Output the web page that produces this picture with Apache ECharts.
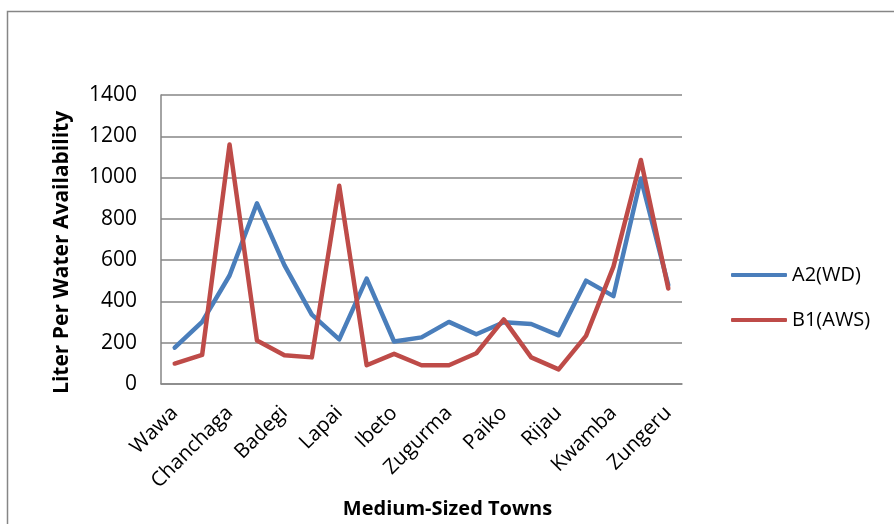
<!DOCTYPE html>
<html>
<head>
<meta charset="utf-8">
<style>
  html, body { margin: 0; padding: 0; background: #fff; }
  #chart { width: 894px; height: 524px; }
</style>
<script src="https://cdn.jsdelivr.net/npm/echarts@6/dist/echarts.min.js"></script>
</head>
<body>
<div id="chart"></div>
<script>
// Towns along the category axis; only every other name is printed on the axis
const towns = [
  'Wawa', '', 'Chanchaga', '', 'Badegi', '', 'Lapai', '', 'Ibeto', '',
  'Zugurma', '', 'Paiko', '', 'Rijau', '', 'Kwamba', '', 'Zungeru'
];

// Liter per water availability
const a2WD = [175, 300, 525, 875, 575, 335, 215, 510, 205, 225,
              300, 240, 298, 290, 235, 500, 425, 995, 478];
const b1AWS = [98, 140, 1160, 210, 138, 128, 960, 90, 145, 90,
               90, 148, 312, 128, 70, 232, 568, 1085, 462];

const yTicks = { min: 0, max: 1400, interval: 200 };

const FONT = '"Open Sans", Lato, sans-serif';
const GRAY = '#868686';

const chart = echarts.init(document.getElementById('chart'));

chart.setOption({
  animation: false,
  backgroundColor: '#ffffff',
  textStyle: { fontFamily: FONT, color: '#000' },
  graphic: [{
    type: 'rect',
    left: 5, top: 9,
    shape: { width: 940, height: 560 },
    style: { fill: 'none', stroke: GRAY, lineWidth: 1.5 },
    silent: true
  }],
  grid: { left: 161, top: 95, width: 521, height: 291 },
  legend: {
    orient: 'vertical',
    left: 726, top: 260,
    itemWidth: 56, itemHeight: 4,
    itemGap: 25,
    icon: 'roundRect',
    textStyle: { fontFamily: FONT, fontSize: 20, color: '#000' },
    data: ['A2(WD)', 'B1(AWS)']
  },
  xAxis: {
    type: 'category',
    data: towns,
    boundaryGap: true,
    name: 'Medium-Sized Towns',
    nameLocation: 'middle',
    nameGap: 106,
    nameTextStyle: { fontFamily: FONT, fontSize: 20, fontWeight: 'bold', color: '#000', padding: [0, 0, 0, 52] },
    axisLine: { lineStyle: { color: GRAY, width: 1.5 } },
    axisTick: { show: false },
    axisLabel: {
      interval: 0,
      rotate: 45,
      margin: 26,
      fontFamily: FONT,
      fontSize: 20.5,
      color: '#000'
    }
  },
  yAxis: {
    type: 'value',
    min: yTicks.min,
    max: yTicks.max,
    interval: yTicks.interval,
    name: 'Liter Per Water Availability',
    nameLocation: 'middle',
    nameGap: 88,
    nameRotate: 90,
    nameTextStyle: { fontFamily: FONT, fontSize: 21, fontWeight: 'bold', color: '#000', padding: [0, 26, 0, 0] },
    axisLine: { show: true, lineStyle: { color: GRAY, width: 1.5 } },
    axisTick: { show: false },
    axisLabel: {
      margin: 24, fontFamily: FONT, fontSize: 21, color: '#000',
      formatter: (v) => String(v)
    },
    splitLine: { lineStyle: { color: GRAY, width: 1.5 } }
  },
  series: [
    {
      name: 'A2(WD)',
      type: 'line',
      data: a2WD,
      symbol: 'none',
      itemStyle: { color: '#4A7EBB' },
      lineStyle: { color: '#4A7EBB', width: 4.5, cap: 'round', join: 'round' }
    },
    {
      name: 'B1(AWS)',
      type: 'line',
      data: b1AWS,
      symbol: 'none',
      itemStyle: { color: '#BE4B48' },
      lineStyle: { color: '#BE4B48', width: 4.5, cap: 'round', join: 'round' }
    }
  ]
});
</script>
</body>
</html>
